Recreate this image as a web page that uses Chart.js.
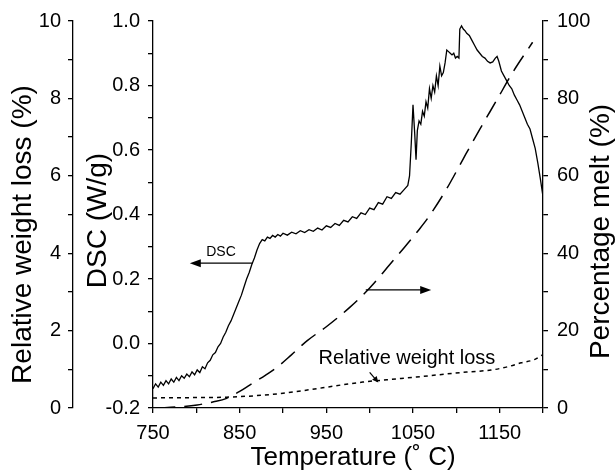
<!DOCTYPE html>
<html>
<head>
<meta charset="utf-8">
<script src="https://cdn.jsdelivr.net/npm/chart.js@4/dist/chart.umd.min.js"></script>
<style>
html,body{margin:0;padding:0;background:#fff;}
#wrap{width:615px;height:474px;position:relative;}
</style>
</head>
<body>
<div id="wrap"><canvas id="c" width="615" height="474"></canvas></div>
<script>
// ---- data ----
const dscTemp = [750,753,756,759,762,765,768,771,774,777,780,783,786,789,792,795,798,801,804,807,810,813,816,819,822,825,828,831,834,837,840,843,846,849,852,855,858,861,864,867,870,873,876,879,882,885,888,891,894,897,900,905,910,915,920,925,930,935,940,945,950,955,960,965,970,975,980,985,990,995,1000,1005,1010,1015,1020,1025,1030,1035,1040,1044,1046,1048,1050,1052,1053.5,1055,1057,1059,1061,1063,1065,1067,1069,1071,1073,1075,1077,1079,1081,1083,1085,1087,1089,1091,1093,1095,1097,1099,1101,1103,1104,1106,1108,1110,1112,1115,1118,1121,1124,1127,1130,1133,1136,1139,1142,1145,1147,1149,1152,1155,1158,1161,1164,1167,1170,1173,1176,1179,1182,1185,1188,1191,1194,1197,1200];
const dscValue = [-0.14,-0.125,-0.135,-0.12,-0.13,-0.115,-0.125,-0.11,-0.12,-0.105,-0.115,-0.1,-0.108,-0.095,-0.103,-0.088,-0.097,-0.082,-0.09,-0.072,-0.078,-0.06,-0.052,-0.035,-0.028,-0.01,0.0,0.02,0.035,0.055,0.07,0.09,0.11,0.13,0.15,0.175,0.2,0.22,0.245,0.265,0.29,0.31,0.322,0.318,0.33,0.326,0.335,0.33,0.338,0.333,0.342,0.336,0.345,0.34,0.35,0.344,0.353,0.348,0.358,0.352,0.365,0.36,0.372,0.366,0.382,0.377,0.393,0.388,0.405,0.4,0.42,0.415,0.437,0.432,0.455,0.45,0.468,0.463,0.478,0.49,0.52,0.62,0.74,0.65,0.57,0.66,0.69,0.68,0.72,0.705,0.75,0.73,0.79,0.76,0.8,0.78,0.83,0.8,0.86,0.83,0.84,0.87,0.91,0.905,0.9,0.895,0.9,0.885,0.89,0.885,0.975,0.985,0.975,0.97,0.962,0.955,0.94,0.925,0.91,0.9,0.89,0.885,0.875,0.87,0.873,0.885,0.89,0.875,0.845,0.83,0.815,0.8,0.79,0.77,0.755,0.74,0.72,0.7,0.68,0.665,0.635,0.605,0.56,0.51,0.455];

const meltTemp = [755,780,801,820,835,850,862,880,893,910,928,950,977,1000,1023,1040,1058,1070,1089,1108,1127,1147,1165,1188];
const meltValue = [0,0.3,0.8,1.6,2.5,4.3,6,8.5,10.5,13.8,17.4,21,26,31,37,41.5,46.4,50,56.7,64.4,72,79.7,86.7,94.5];

const lossTemp = [750,800,835,870,900,930,954,975,992,1020,1054,1080,1112,1140,1160,1175,1190,1200];
const lossValue = [0.26,0.27,0.28,0.32,0.38,0.47,0.55,0.62,0.67,0.73,0.8,0.86,0.93,0.98,1.07,1.17,1.25,1.38];

const xTickLabels = [750,850,950,1050,1150];
const dscTickLabels = [-0.2,0.0,0.2,0.4,0.6,0.8,1.0];
const lossTickLabels = [0,2,4,6,8,10];
const meltTickLabels = [0,20,40,60,80,100];

const xTitle = 'Temperature (\u02DA C)';
const dscTitle = 'DSC (W/g)';
const lossTitle = 'Relative weight loss (%)';
const meltTitle = 'Percentage melt (%)';
const dscNote = 'DSC';
const lossNote = 'Relative weight loss';

// ---- build ----
const zip = (xs, ys) => xs.map((x, i) => ({x, y: ys[i]}));
const FONT = "'Liberation Sans', Arial, sans-serif";
const near = (v, list) => list.some(l => Math.abs(l - v) < 1e-6);

function fixW(w){ return s => { s.width = w; }; }
function fixH(h){ return s => { s.height = h; }; }

const axisCommon = {
  grid: {drawOnChartArea:false, drawTicks:true, tickLength:5, color:'#000', lineWidth:1.3, tickWidth:1.3},
  border: {display:true, color:'#000', width:1.3},
};

const annot = {
  id:'annot',
  afterDatasetsDraw(chart){
    const {ctx, scales, chartArea} = chart;
    const X = scales.x, D = scales.yDSC, W = scales.yLoss;
    ctx.save();
    ctx.fillStyle = '#000'; ctx.strokeStyle = '#000'; ctx.lineWidth = 1.2;
    function arrow(x1,y1,x2,y2,hl,hw){
      const a = Math.atan2(y2-y1,x2-x1);
      ctx.beginPath(); ctx.moveTo(x1,y1); ctx.lineTo(x2 - Math.cos(a)*hl*0.8, y2 - Math.sin(a)*hl*0.8); ctx.stroke();
      ctx.beginPath();
      ctx.moveTo(x2,y2);
      ctx.lineTo(x2 - Math.cos(a)*hl - Math.sin(a)*hw, y2 - Math.sin(a)*hl + Math.cos(a)*hw);
      ctx.lineTo(x2 - Math.cos(a)*hl + Math.sin(a)*hw, y2 - Math.sin(a)*hl - Math.cos(a)*hw);
      ctx.closePath(); ctx.fill();
    }
    // DSC arrow (pointing left)
    const ay = D.getPixelForValue(0.249);
    arrow(X.getPixelForValue(865), ay, X.getPixelForValue(792.5), ay, 11, 4);
    ctx.font = '14px ' + FONT; ctx.textAlign='center'; ctx.textBaseline='middle';
    ctx.fillText(dscNote, X.getPixelForValue(828.5), D.getPixelForValue(0.283));
    // melt arrow (pointing right)
    const by = D.getPixelForValue(0.166);
    arrow(X.getPixelForValue(995.5), by, X.getPixelForValue(1071), by, 11, 4);
    // weight loss label + small arrow
    ctx.font = '20px ' + FONT;
    ctx.fillText(lossNote, X.getPixelForValue(1043), W.getPixelForValue(1.28));
    arrow(X.getPixelForValue(1000), W.getPixelForValue(0.92), X.getPixelForValue(1010), W.getPixelForValue(0.66), 6, 3);

    // axis titles
    const cy = (chartArea.top + chartArea.bottom) / 2;
    const cx = (chartArea.left + chartArea.right) / 2;
    function vtitle(txt, x, y, size){
      ctx.save(); ctx.translate(x, y); ctx.rotate(-Math.PI/2);
      ctx.font = size + 'px ' + FONT; ctx.textAlign='center'; ctx.textBaseline='middle';
      ctx.fillText(txt, 0, 0); ctx.restore();
    }
    vtitle(lossTitle, scales.yLoss.left + 23, cy + 20, 28);
    vtitle(dscTitle, scales.yDSC.left + 25, cy + 6, 28);
    vtitle(meltTitle, scales.yMelt.right - 14, cy + 17, 28);
    ctx.font = '26px ' + FONT; ctx.textAlign='center'; ctx.textBaseline='middle';
    ctx.fillText(xTitle, cx + 5, chartArea.bottom + 50);
    ctx.restore();
  }
};

Chart.defaults.font.family = FONT;
Chart.defaults.color = '#000';

new Chart(document.getElementById('c'), {
  type:'line',
  data:{
    datasets:[
      {label:'DSC', data:zip(dscTemp,dscValue), xAxisID:'x', yAxisID:'yDSC', borderColor:'#000', borderWidth:1.3, pointRadius:0, tension:0, fill:false},
      {label:'Percentage melt', data:zip(meltTemp,meltValue), xAxisID:'x', yAxisID:'yMelt', borderColor:'#000', borderWidth:1.5, borderDash:[18,9], pointRadius:0, tension:0.3, cubicInterpolationMode:'monotone', fill:false},
      {label:'Relative weight loss', data:zip(lossTemp,lossValue), xAxisID:'x', yAxisID:'yLoss', borderColor:'#000', borderWidth:1.5, borderDash:[4,4], pointRadius:0, tension:0.3, cubicInterpolationMode:'monotone', fill:false}
    ]
  },
  options:{
    responsive:false, animation:false, devicePixelRatio:1,
    layout:{padding:{top:18, left:0, right:0, bottom:0}},
    plugins:{legend:{display:false}, tooltip:{enabled:false}},
    scales:{
      x:{type:'linear', position:'bottom', min:750, max:1200, afterFit:fixH(66),
        ...axisCommon,
        ticks:{stepSize:50, autoSkip:false, maxRotation:0, padding:8, font:{size:20},
          callback:v => near(v, xTickLabels) ? String(v) : ''},
        title:{display:false}
      },
      yDSC:{type:'linear', position:'left', weight:0, min:-0.2, max:1.0, afterFit:fixW(80),
        ...axisCommon,
        ticks:{stepSize:0.1, autoSkip:false, padding:8, font:{size:20},
          callback:v => near(v, dscTickLabels) ? (Math.round(v*10)/10 + 0).toFixed(1) : ''},
        title:{display:false}
      },
      yLoss:{type:'linear', position:'left', weight:1, min:0, max:10, afterFit:fixW(73),
        ...axisCommon,
        ticks:{stepSize:1, autoSkip:false, padding:7, font:{size:20},
          callback:v => near(v, lossTickLabels) ? String(v) : ''},
        title:{display:false}
      },
      yMelt:{type:'linear', position:'right', min:0, max:100, afterFit:fixW(72),
        ...axisCommon,
        ticks:{stepSize:10, autoSkip:false, padding:9, font:{size:20},
          callback:v => near(v, meltTickLabels) ? String(v) : ''},
        title:{display:false}
      }
    }
  },
  plugins:[annot]
});
</script>
</body>
</html>
